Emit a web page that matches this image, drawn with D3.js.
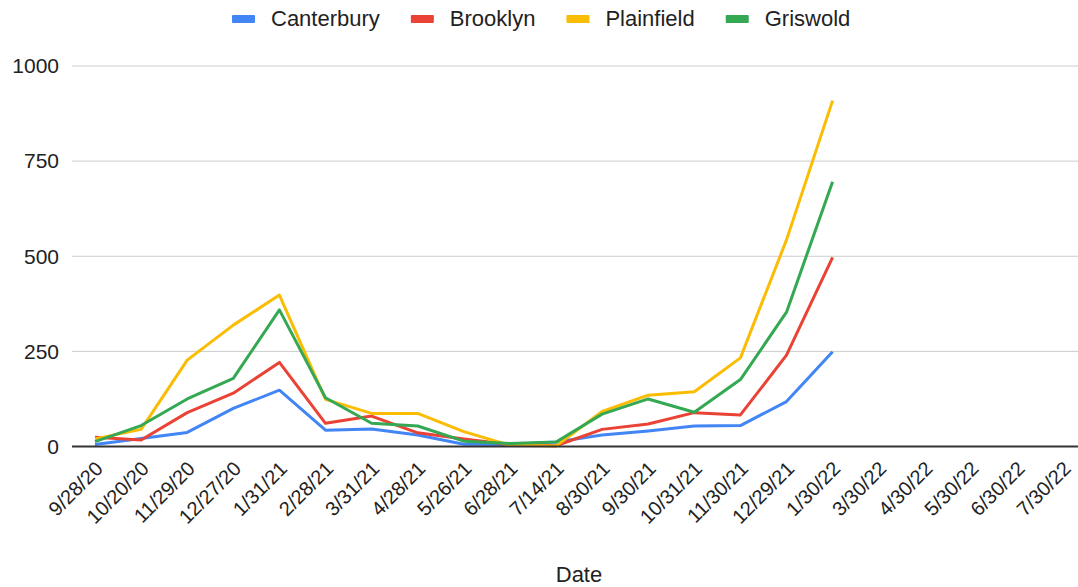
<!DOCTYPE html>
<html>
<head>
<meta charset="utf-8">
<script src="https://cdn.jsdelivr.net/npm/d3@7"></script>
<style>
  html, body { margin: 0; padding: 0; background: #fff; }
  svg { display: block; font-family: Arial, "Liberation Sans", sans-serif; }
</style>
</head>
<body>
<svg id="chart" width="1078" height="587"></svg>
<script>
const categories = ["9/28/20","10/20/20","11/29/20","12/27/20","1/31/21","2/28/21","3/31/21","4/28/21","5/26/21","6/28/21","7/14/21","8/30/21","9/30/21","10/31/21","11/30/21","12/29/21","1/30/22","3/30/22","4/30/22","5/30/22","6/30/22","7/30/22"];
const seriesNames = ["Canterbury","Brooklyn","Plainfield","Griswold"];
const canterbury = [5, 21, 37, 100, 148, 43, 46, 30, 6, 5, 12, 30, 41, 54, 55, 118, 249];
const brooklyn   = [24, 17, 89, 140, 221, 61, 80, 36, 20, 5, 2, 45, 59, 89, 83, 240, 497];
const plainfield = [20, 45, 227, 319, 398, 124, 87, 87, 39, 3, 1, 92, 135, 144, 233, 543, 909];
const griswold   = [13, 55, 125, 179, 359, 128, 61, 54, 14, 8, 12, 85, 125, 90, 176, 353, 696];
const yTicks = [0, 250, 500, 750, 1000];
const colors = ["#4285F4", "#EA4335", "#FBBC04", "#34A853"];

const seriesValues = [canterbury, brooklyn, plainfield, griswold];
const svg = d3.select("#chart");

const x = d3.scalePoint().domain(categories).range([95, 95 + 21 * 46.1]);
const y = d3.scaleLinear().domain([0, 1000]).range([446.5, 66]);
const plotLeft = 72, plotRight = 1078;

// gridlines
svg.append("g").selectAll("line").data(yTicks.filter(d => d !== 0)).join("line")
  .attr("x1", plotLeft).attr("x2", plotRight)
  .attr("y1", d => y(d)).attr("y2", d => y(d))
  .attr("stroke", "#cccccc").attr("stroke-width", 1);

// y tick labels
svg.append("g").selectAll("text").data(yTicks).join("text")
  .attr("x", 59).attr("y", d => y(d)).attr("dy", "0.35em")
  .attr("text-anchor", "end").attr("font-size", 21).attr("fill", "#222")
  .text(d => d);

// lines
const line = d3.line().x((d, i) => x(categories[i])).y(d => y(d));
svg.append("g").selectAll("path").data(seriesValues).join("path")
  .attr("d", d => line(d))
  .attr("fill", "none")
  .attr("stroke", (d, i) => colors[i])
  .attr("stroke-width", 3)
  .attr("stroke-linejoin", "round");

// baseline
svg.append("line").attr("x1", plotLeft).attr("x2", plotRight)
  .attr("y1", y(0)).attr("y2", y(0))
  .attr("stroke", "#333").attr("stroke-width", 2);

// x tick labels
svg.append("g").selectAll("text").data(categories).join("text")
  .attr("transform", d => `translate(${x(d) + 9},470) rotate(-45)`)
  .attr("text-anchor", "end").attr("font-size", 20).attr("fill", "#222")
  .text(d => d);

// x axis title
svg.append("text").attr("x", 579).attr("y", 582)
  .attr("text-anchor", "middle").attr("font-size", 22).attr("fill", "#222")
  .text("Date");

// legend
const legend = svg.append("g");
let lx = 232;
seriesNames.forEach((name, i) => {
  legend.append("rect").attr("x", lx).attr("y", 15).attr("width", 23).attr("height", 8)
    .attr("rx", 1).attr("fill", colors[i]);
  const t = legend.append("text").attr("x", lx + 39).attr("y", 26)
    .attr("font-size", 22).attr("fill", "#222").text(name);
  lx = lx + 39 + t.node().getComputedTextLength() + 31;
});
</script>
</body>
</html>
